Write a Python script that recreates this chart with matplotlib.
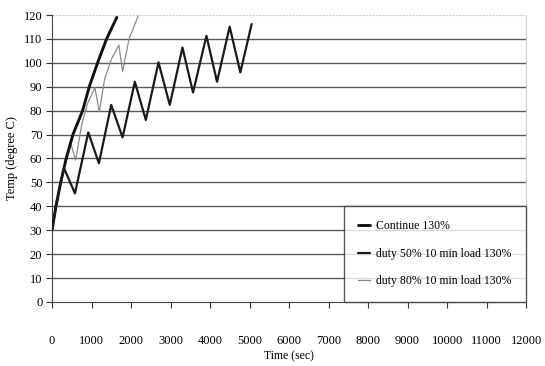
import matplotlib
matplotlib.use("Agg")
import matplotlib.pyplot as plt

# Temperature rise under 130% load (time in seconds, temperature in degree C)
cont_t = [0, 100, 220, 360, 530, 775, 943, 1154, 1381, 1640]
cont_y = [30, 40, 50, 60, 70, 80, 90, 100, 110, 119]

duty50_t = [0, 100, 220, 303, 581, 918, 1187, 1499, 1786, 2097, 2375, 2695,
            2981, 3302, 3570, 3908, 4177, 4497, 4767, 5053]
duty50_y = [30, 40, 50, 56, 45.4, 70.9, 58, 82.4, 68.8, 92.1, 76.1, 100.2,
            82.4, 106.4, 87.6, 111.3, 92.1, 115.1, 96, 116.2]

duty80_t = [0, 100, 220, 360, 472, 598, 750, 900, 1086, 1196, 1330, 1500,
            1693, 1786, 1950, 2180]
duty80_y = [30, 40, 50, 60, 66.5, 59.3, 74, 83, 89.7, 79.5, 93, 101.5,
            107.4, 96.3, 110, 119.5]

labels = ["Continue 130%", "duty 50% 10 min load 130%", "duty 80% 10 min load 130%"]
x_ticks = list(range(0, 12001, 1000))
y_ticks = list(range(0, 121, 10))

plt.rcParams["font.family"] = ["Liberation Serif", "DejaVu Serif"]

fig = plt.figure(figsize=(5.45, 3.66), dpi=100)
ax = fig.add_axes([0.0954, 0.175, 0.87, 0.784])

# horizontal grid
for v in y_ticks[1:-1]:
    ax.axhline(v, color="#5a5a5a", lw=1.0, zorder=1)
ax.axhline(120, color="#c8c8c8", lw=0.8, ls=(0, (2, 1)), zorder=1)

l1, = ax.plot(cont_t, cont_y, color="#111111", lw=2.1, zorder=3,
              solid_joinstyle="round", solid_capstyle="round")
l2, = ax.plot(duty50_t, duty50_y, color="#1a1a1a", lw=1.6, zorder=3,
              solid_joinstyle="round", solid_capstyle="round")
l3, = ax.plot(duty80_t, duty80_y, color="#8a8a8a", lw=0.9, zorder=2,
              solid_joinstyle="round")

ax.set_xlim(0, 12000)
ax.set_ylim(0, 120)
ax.set_xticks(x_ticks)
ax.set_yticks(y_ticks)
ax.tick_params(axis="x", direction="out", length=4, width=0.8, pad=20,
               labelsize=9, colors="#333333", labelcolor="black")
ax.tick_params(axis="y", direction="out", length=4, width=0.8, pad=3,
               labelsize=9, colors="#333333", labelcolor="black")

ax.spines["top"].set_visible(False)
ax.spines["right"].set_color("#d0d0d0")
ax.spines["right"].set_linewidth(0.8)
ax.spines["left"].set_color("#444444")
ax.spines["bottom"].set_color("#444444")

ax.set_xlabel("Time (sec)", fontsize=8.5, labelpad=2)
ax.set_ylabel("Temp (degree C)", fontsize=9, labelpad=4)

leg = ax.legend([l1, l2, l3], labels, loc="lower right", bbox_to_anchor=(1.0, 0.0),
                borderaxespad=0, fontsize=8.5, frameon=True, fancybox=False,
                handlelength=1.0, handletextpad=0.5, labelspacing=1.3,
                borderpad=1.25)
leg.get_frame().set_edgecolor("#333333")
leg.get_frame().set_linewidth(1.0)
leg.set_zorder(5)

fig.savefig("out.png", dpi=100)
